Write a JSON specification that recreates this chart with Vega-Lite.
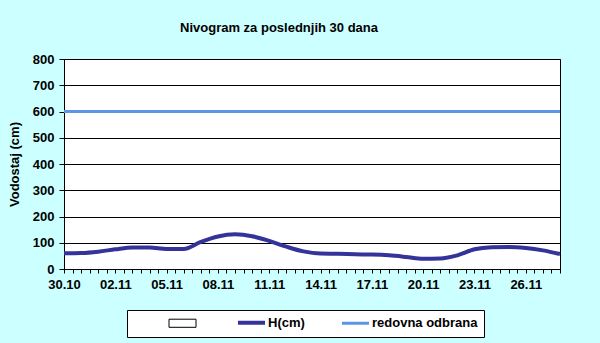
{
  "$schema": "https://vega.github.io/schema/vega-lite/v6.json",
  "width": 496,
  "height": 210,
  "autosize": {"type": "none"},
  "padding": {"left": 64, "top": 59, "right": 40, "bottom": 74},
  "background": "#CCFFFF",
  "title": {
    "text": "Nivogram za poslednjih 30 dana",
    "font": "Liberation Sans",
    "fontSize": 13,
    "fontWeight": "bold",
    "color": "black",
    "anchor": "middle",
    "dx": -33,
    "offset": 18
  },
  "layer": [
    {
      "data": {"values": [{"level": 600}]},
      "mark": {"type": "rule", "strokeWidth": 3},
      "encoding": {
        "y": {"field": "level", "type": "quantitative", "scale": {"domain": [0, 800], "nice": false}, "axis": {"title": "Vodostaj (cm)", "values": [0, 100, 200, 300, 400, 500, 600, 700, 800]}},
        "color": {"datum": "redovna odbrana", "type": "nominal"}
      }
    },
    {
      "data": {"values": [
        {"date": "2023-10-30", "H": 60},
        {"date": "2023-10-31", "H": 61},
        {"date": "2023-11-01", "H": 66},
        {"date": "2023-11-02", "H": 75},
        {"date": "2023-11-03", "H": 82},
        {"date": "2023-11-04", "H": 82},
        {"date": "2023-11-05", "H": 76},
        {"date": "2023-11-06", "H": 76},
        {"date": "2023-11-07", "H": 103},
        {"date": "2023-11-08", "H": 124},
        {"date": "2023-11-09", "H": 132},
        {"date": "2023-11-10", "H": 125},
        {"date": "2023-11-11", "H": 107},
        {"date": "2023-11-12", "H": 85},
        {"date": "2023-11-13", "H": 67},
        {"date": "2023-11-14", "H": 59},
        {"date": "2023-11-15", "H": 58},
        {"date": "2023-11-16", "H": 56},
        {"date": "2023-11-17", "H": 55},
        {"date": "2023-11-18", "H": 52},
        {"date": "2023-11-19", "H": 46},
        {"date": "2023-11-20", "H": 39},
        {"date": "2023-11-21", "H": 40},
        {"date": "2023-11-22", "H": 52},
        {"date": "2023-11-23", "H": 75},
        {"date": "2023-11-24", "H": 83},
        {"date": "2023-11-25", "H": 84},
        {"date": "2023-11-26", "H": 80},
        {"date": "2023-11-27", "H": 71},
        {"date": "2023-11-28", "H": 57}
      ]},
      "mark": {"type": "line", "interpolate": "monotone", "strokeWidth": 4},
      "encoding": {
        "x": {
          "field": "date",
          "type": "temporal",
          "scale": {"type": "utc", "nice": false},
          "axis": {
            "title": null,
            "values": [1698624000000, 1698667200000, 1698710400000, 1698753600000, 1698796800000, 1698840000000, 1698883200000, 1698926400000, 1698969600000, 1699012800000, 1699056000000, 1699099200000, 1699142400000, 1699185600000, 1699228800000, 1699272000000, 1699315200000, 1699358400000, 1699401600000, 1699444800000, 1699488000000, 1699531200000, 1699574400000, 1699617600000, 1699660800000, 1699704000000, 1699747200000, 1699790400000, 1699833600000, 1699876800000, 1699920000000, 1699963200000, 1700006400000, 1700049600000, 1700092800000, 1700136000000, 1700179200000, 1700222400000, 1700265600000, 1700308800000, 1700352000000, 1700395200000, 1700438400000, 1700481600000, 1700524800000, 1700568000000, 1700611200000, 1700654400000, 1700697600000, 1700740800000, 1700784000000, 1700827200000, 1700870400000, 1700913600000, 1700956800000, 1701000000000, 1701043200000, 1701086400000, 1701129600000],
            "format": "%d.%m",
            "labelExpr": "(datum.value - 1698624000000) % 259200000 === 0 ? datum.label : ''",
            "labelOverlap": false,
            "labelFlush": false,
            "tickSize": 4,
            "labelPadding": 5,
            "grid": false
          }
        },
        "y": {"field": "H", "type": "quantitative", "scale": {"domain": [0, 800], "nice": false}, "axis": {"title": "Vodostaj (cm)", "values": [0, 100, 200, 300, 400, 500, 600, 700, 800]}},
        "color": {
          "datum": "H(cm)",
          "type": "nominal",
          "scale": {"domain": ["blank", "H(cm)", "redovna odbrana"], "range": ["#000000", "#333399", "#5B95E5"]},
          "legend": {
            "orient": "none",
            "legendX": 63,
            "legendY": 251,
            "direction": "horizontal",
            "title": "\u00a0",
            "titleOrient": "left",
            "titlePadding": 43,
            "titleFontSize": 13,
            "symbolType": "stroke",
            "symbolSize": 100,
            "symbolStrokeWidth": 4,
            "labelFont": "Liberation Sans",
            "labelFontSize": 13,
            "labelFontWeight": "bold",
            "labelColor": "black",
            "labelOffset": 10,
            "columnPadding": 31,
            "padding": 6,
            "strokeColor": "black",
            "fillColor": "white",
            "labelLimit": 300,
            "labelExpr": "datum.value === 'blank' ? '' : datum.value === 'redovna odbrana' ? datum.label + '\u00a0\u00a0\u00a0\u00a0\u00a0\u00a0' : datum.label + '\u00a0'",
            "encode": {
              "symbols": {
                "update": {
                  "size": {"value": 729},
                  "shape": {"signal": "datum.value === 'blank' ? 'M -1 -0.3 L 1 -0.3 L 1 0.3 L -1 0.3 Z' : 'stroke'"},
                  "fill": {"signal": "datum.value === 'blank' ? '#ffffff' : 'transparent'"},
                  "stroke": {"signal": "datum.value === 'blank' ? '#000000' : datum.value === 'H(cm)' ? '#333399' : '#5B95E5'"},
                  "strokeWidth": {"signal": "datum.value === 'blank' ? 1 : datum.value === 'H(cm)' ? 4 : 3"},
                  "opacity": {"value": 1},
                  "fillOpacity": {"value": 1},
                  "strokeOpacity": {"value": 1}
                }
              }
            }
          }
        }
      }
    }
  ],
  "config": {
    "font": "Liberation Sans",
    "view": {"fill": "white", "stroke": "black", "strokeWidth": 1},
    "axis": {
      "labelFont": "Liberation Sans",
      "labelFontSize": 13,
      "labelFontWeight": "bold",
      "labelColor": "black",
      "domainColor": "black",
      "tickColor": "black",
      "titleFont": "Liberation Sans",
      "titleFontSize": 13,
      "titleFontWeight": "bold",
      "titleColor": "black",
      "gridColor": "black",
      "gridOpacity": 1
    },
    "axisY": {"tickSize": 5, "labelPadding": 5, "titlePadding": 11, "grid": true}
  }
}
